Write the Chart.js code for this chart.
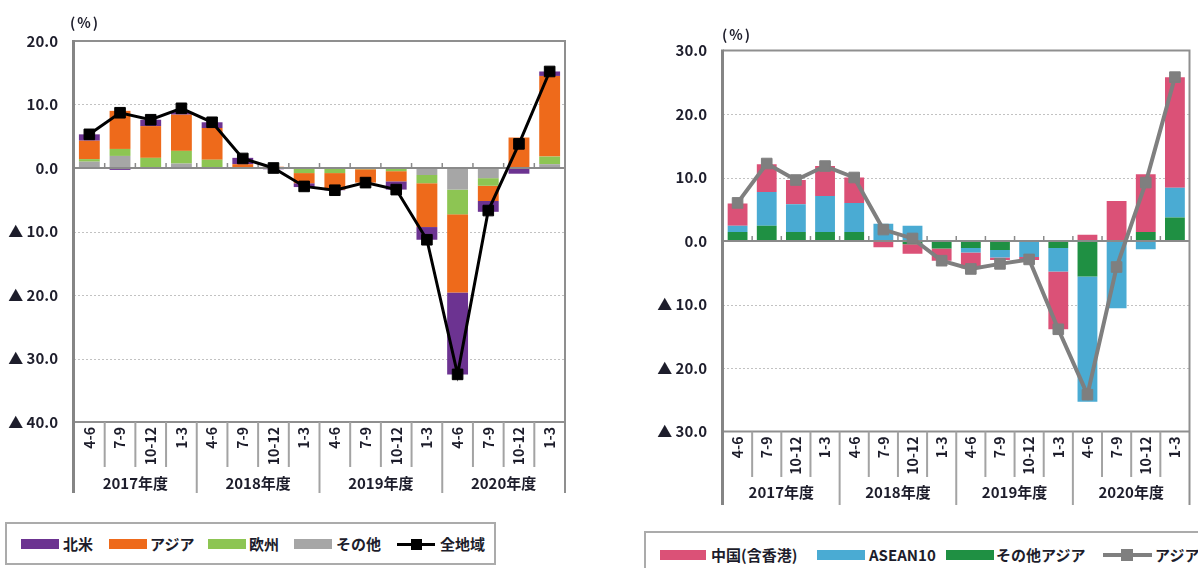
<!DOCTYPE html>
<html lang="ja">
<head>
<meta charset="utf-8">
<title>地域別寄与度</title>
<script src="https://cdn.jsdelivr.net/npm/chart.js@4/dist/chart.umd.min.js"></script>
<style>
  html, body { margin: 0; padding: 0; background: #fff; }
  body { position: relative; width: 1198px; height: 568px; overflow: hidden;
         font-family: "Noto Sans CJK JP", "Noto Sans", sans-serif; color: #1d1d2b; }
  canvas { position: absolute; }
  .unit { position: absolute; font-size: 14px; font-weight: bold; letter-spacing: 2px; line-height: 14px; }
  .legend { position: absolute; border: 2px solid #ababab; background: #fff; }
  .sw { position: absolute; height: 10px; }
  .lg { position: absolute; font-size: 15px; font-weight: bold; line-height: 16px; white-space: nowrap; }
  .ln { position: absolute; height: 3px; }
  .mk { position: absolute; }
</style>
</head>
<body>
<canvas id="regionChart" width="600" height="500" style="left:0;top:0"></canvas>
<canvas id="asiaChart" width="578" height="520" style="left:620px;top:0"></canvas>

<div class="unit" style="left:70px;top:15px">(%)</div>
<div class="unit" style="left:722px;top:27px">(%)</div>

<div class="legend" style="left:5px;top:522px;width:487px;height:39px"></div>
<div class="sw" style="left:21px;top:539px;width:38px;background:#6c3391"></div>
<div class="lg" style="left:63px;top:536px">北米</div>
<div class="sw" style="left:109px;top:539px;width:38px;background:#ee6a1b"></div>
<div class="lg" style="left:150px;top:536px">アジア</div>
<div class="sw" style="left:208px;top:539px;width:38px;background:#8dc553"></div>
<div class="lg" style="left:249px;top:536px">欧州</div>
<div class="sw" style="left:294px;top:539px;width:38px;background:#a6a6a6"></div>
<div class="lg" style="left:336px;top:536px">その他</div>
<div class="ln" style="left:397px;top:543px;width:38px;background:#000"></div>
<div class="mk" style="left:411px;top:539px;width:11px;height:11px;background:#000"></div>
<div class="lg" style="left:440px;top:536px">全地域</div>

<div class="legend" style="left:644px;top:531px;width:600px;height:60px"></div>
<div class="sw" style="left:660px;top:550px;width:46px;background:#db5177"></div>
<div class="lg" style="left:711px;top:547px">中国(含香港)</div>
<div class="sw" style="left:817px;top:550px;width:48px;background:#4aabd3"></div>
<div class="lg" style="left:869px;top:547px">ASEAN10</div>
<div class="sw" style="left:946px;top:550px;width:48px;background:#1f9043"></div>
<div class="lg" style="left:996px;top:547px">その他アジア</div>
<div class="ln" style="left:1103px;top:553px;width:49px;height:4px;background:#7f7f7f"></div>
<div class="mk" style="left:1121px;top:549px;width:12px;height:12px;background:#7f7f7f"></div>
<div class="lg" style="left:1155px;top:547px">アジア</div>

<script>
// 四半期と年度の区分
const quarters = ['4-6', '7-9', '10-12', '1-3', '4-6', '7-9', '10-12', '1-3',
                  '4-6', '7-9', '10-12', '1-3', '4-6', '7-9', '10-12', '1-3'];
const fiscalYears = ['2017年度', '2018年度', '2019年度', '2020年度'];

// 地域別寄与度（％ポイント）
const northAmerica = [1.0, -0.3, 1.0, 0.4, 0.9, 1.0, -0.2, -0.6, -0.1, 0.0, -1.3, -2.0, -12.9, -1.7, -0.8, 0.7];
const asia         = [2.9, 6.0, 5.0, 5.7, 5.0, 0.6, 0.2, -1.6, -2.6, -2.1, -1.6, -6.9, -12.3, -2.4, 4.8, 12.7];
const europe       = [0.4, 1.1, 1.5, 2.0, 1.3, -0.1, 0.0, -0.8, -0.8, -0.2, -0.5, -1.3, -3.9, -1.2, 0.0, 1.2];
const others       = [1.0, 1.9, 0.1, 0.7, 0.0, 0.0, 0.0, 0.0, 0.0, 0.0, 0.0, -1.1, -3.4, -1.6, -0.1, 0.6];
const allRegions   = [5.3, 8.7, 7.6, 9.4, 7.2, 1.5, 0.0, -2.9, -3.5, -2.3, -3.4, -11.3, -32.5, -6.7, 3.8, 15.2];

// アジア内訳の寄与度（％ポイント）
const china     = [3.5, 4.4, 3.8, 4.7, 4.0, -1.0, -1.5, -1.9, -2.5, -0.4, -0.5, -9.1, 1.0, 6.3, 9.1, 17.4];
const asean10   = [1.0, 5.3, 4.4, 5.7, 4.6, 2.7, 2.4, 0.0, -0.7, -1.2, -2.4, -3.7, -19.7, -10.6, -1.3, 4.7];
const otherAsia = [1.4, 2.4, 1.4, 1.4, 1.4, 0.0, -0.5, -1.2, -1.1, -1.4, -0.1, -1.1, -5.6, 0.0, 1.4, 3.7];
const asiaTotal = [6.0, 12.2, 9.6, 11.8, 10.0, 1.8, 0.4, -3.1, -4.4, -3.6, -2.9, -13.9, -24.2, -4.1, 9.2, 25.8];

// 縦軸の目盛
const regionTicks = [20, 10, 0, -10, -20, -30, -40];
const asiaTicks = [30, 20, 10, 0, -10, -20, -30];

const TEXT = '#1d1d2b';
const FONT = '"Noto Sans CJK JP", "Noto Sans", sans-serif';

function tickLabel(v) {
  if (v === 0) return '0.0';
  return v < 0 ? '▲ ' + (-v).toFixed(1) : v.toFixed(1);
}

// 枠線・補助線・区分ラベル
const frameAndLabels = {
  id: 'frameAndLabels',
  beforeDatasetsDraw(chart) {
    const { ctx, chartArea: a } = chart;
    const y = chart.scales.y;
    ctx.save();
    ctx.strokeStyle = '#c2c2c2';
    ctx.lineWidth = 1;
    ctx.setLineDash([2, 2]);
    for (const t of y.ticks) {
      if (t.value === 0 || t.value === y.max || t.value === y.min) continue;
      const py = Math.round(y.getPixelForValue(t.value)) + 0.5;
      ctx.beginPath(); ctx.moveTo(a.left, py); ctx.lineTo(a.right, py); ctx.stroke();
    }
    ctx.restore();
  },
  beforeDatasetDraw(chart, args) {
    if (args.meta.type !== 'line') return;
    const { ctx, chartArea: a } = chart;
    const x = chart.scales.x;
    const y0 = chart.scales.y.getPixelForValue(0);
    const w = (a.right - a.left) / quarters.length;
    ctx.save();
    ctx.strokeStyle = '#8a8a8a';
    ctx.lineWidth = 2;
    ctx.beginPath(); ctx.moveTo(a.left, y0); ctx.lineTo(a.right, y0); ctx.stroke();
    ctx.lineWidth = 1.5;
    for (let i = 1; i < quarters.length; i++) {
      const bx = x.getPixelForValue(i) - w / 2;
      ctx.beginPath(); ctx.moveTo(bx, y0); ctx.lineTo(bx, y0 - 5); ctx.stroke();
    }
    ctx.restore();
  },
  afterDraw(chart, args, o) {
    const { ctx, chartArea: a } = chart;
    const x = chart.scales.x;
    const w = (a.right - a.left) / quarters.length;
    ctx.save();
    ctx.strokeStyle = '#8f8f8f';
    ctx.lineWidth = 2;
    ctx.beginPath();
    ctx.moveTo(a.left, a.top); ctx.lineTo(a.right, a.top);
    ctx.moveTo(a.right, a.top - 1); ctx.lineTo(a.right, o.yearBottom);
    ctx.moveTo(a.left, a.bottom); ctx.lineTo(a.right, a.bottom);
    ctx.stroke();

    ctx.strokeStyle = '#a3a3a3';
    for (let i = 1; i < quarters.length; i++) {
      const bx = x.getPixelForValue(i) - w / 2;
      const yearEdge = i % 4 === 0;
      ctx.beginPath();
      ctx.moveTo(bx, a.bottom);
      ctx.lineTo(bx, yearEdge ? o.yearBottom : o.cellBottom);
      ctx.stroke();
    }

    ctx.strokeStyle = '#858585';
    ctx.lineWidth = 3;
    ctx.beginPath(); ctx.moveTo(a.left - 0.5, a.top - 1); ctx.lineTo(a.left - 0.5, o.yearBottom); ctx.stroke();

    ctx.fillStyle = TEXT;
    ctx.font = 'bold 14px ' + FONT;
    ctx.textAlign = 'right';
    ctx.textBaseline = 'middle';
    quarters.forEach((q, i) => {
      ctx.save();
      ctx.translate(x.getPixelForValue(i), a.bottom + o.labelGap);
      ctx.rotate(-Math.PI / 2);
      ctx.fillText(q, 0, 0);
      ctx.restore();
    });

    ctx.textAlign = 'center';
    ctx.font = 'bold 15px ' + FONT;
    fiscalYears.forEach((fy, k) => {
      const cx = (x.getPixelForValue(k * 4) + x.getPixelForValue(k * 4 + 3)) / 2;
      ctx.fillText(fy, cx, o.yearY);
    });
    ctx.restore();
  }
};

function barSet(label, data, color) {
  return {
    type: 'bar', label, data, backgroundColor: color, borderWidth: 0,
    barPercentage: 0.68, categoryPercentage: 1.0, stack: 'parts', order: 1
  };
}

function lineSet(label, data, color, width, radius) {
  return {
    type: 'line', label, data, borderColor: color, borderWidth: width,
    pointStyle: 'rect', pointRadius: radius, pointBackgroundColor: color,
    pointBorderColor: color, pointBorderWidth: 1, tension: 0, stack: 'total', order: 0
  };
}

function buildChart(canvasId, datasets, tickValues, g) {
  return new Chart(document.getElementById(canvasId), {
    data: { labels: quarters, datasets },
    plugins: [frameAndLabels],
    options: {
      responsive: false,
      devicePixelRatio: 1,
      animation: false,
      events: [],
      layout: { padding: { left: 0, top: g.top, right: g.right, bottom: 0 } },
      plugins: {
        legend: { display: false },
        tooltip: { enabled: false },
        frameAndLabels: g.labels
      },
      scales: {
        x: {
          stacked: true,
          offset: true,
          grid: { display: false },
          border: { display: false },
          ticks: { display: false },
          afterFit: s => { s.height = g.axisHeight; }
        },
        y: {
          stacked: true,
          min: tickValues[tickValues.length - 1],
          max: tickValues[0],
          afterBuildTicks: s => { s.ticks = tickValues.map(v => ({ value: v })); },
          afterFit: s => { s.width = g.axisWidth; },
          grid: { display: false, drawTicks: false },
          border: { display: false },
          ticks: {
            padding: 16,
            color: TEXT,
            font: { family: FONT, size: 15, weight: 'bold' },
            callback: v => tickLabel(v)
          }
        }
      }
    }
  });
}

buildChart('regionChart', [
  barSet('その他', others, '#a6a6a6'),
  barSet('欧州', europe, '#8dc553'),
  barSet('アジア', asia, '#ee6a1b'),
  barSet('北米', northAmerica, '#6c3391'),
  lineSet('全地域', allRegions, '#000000', 3, 7.5)
], regionTicks, {
  top: 41, right: 35, axisWidth: 74, axisHeight: 78,
  labels: { labelGap: 5, cellBottom: 467, yearBottom: 493, yearY: 483 }
});

buildChart('asiaChart', [
  barSet('その他アジア', otherAsia, '#1f9043'),
  barSet('ASEAN10', asean10, '#4aabd3'),
  barSet('中国(含香港)', china, '#db5177'),
  lineSet('アジア', asiaTotal, '#7f7f7f', 4, 7.5)
], asiaTicks, {
  top: 50.5, right: 1.5, axisWidth: 103, axisHeight: 88.5,
  labels: { labelGap: 5, cellBottom: 477, yearBottom: 505, yearY: 492 }
});
</script>
</body>
</html>
